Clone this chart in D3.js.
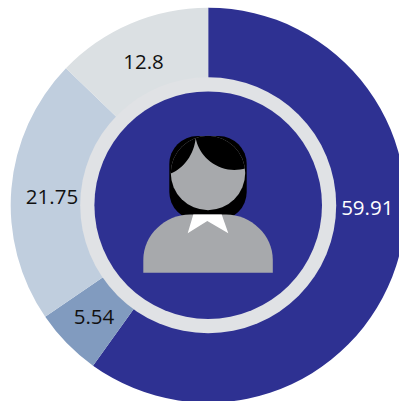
<!DOCTYPE html>
<html>
<head>
<meta charset="utf-8">
<script src="https://cdn.jsdelivr.net/npm/d3@7"></script>
<style>
  html, body { margin: 0; padding: 0; background: #fff; overflow: hidden; }
  svg { display: block; }
</style>
</head>
<body>
<div id="chart"></div>
<script>
// values clockwise from 12 o'clock
var categories = ["a", "b", "c", "d"];
var values = [59.91, 5.54, 21.75, 12.8];
var labels = ["59.91", "5.54", "21.75", "12.8"];
var sliceColors = ["#2e3192", "#819bbf", "#c0cede", "#dbe0e3"];
var labelColors = ["#ffffff", "#111111", "#111111", "#111111"];

var width = 399;
var height = 401;
var cx = 208.2;
var cy = 205.2;

var svg = d3.select("#chart").append("svg")
    .attr("width", width)
    .attr("height", height);

var g = svg.append("g")
    .attr("transform", "translate(" + cx + "," + cy + ")");

var pie = d3.pie().sort(null).value(function(d){ return d; });
var arc = d3.arc().innerRadius(120).outerRadius(197.5);

g.selectAll("path.slice")
    .data(pie(values))
    .enter()
    .append("path")
    .attr("class", "slice")
    .attr("d", arc)
    .attr("fill", function(d, i){ return sliceColors[i]; });

// ring and inner disc
g.append("circle").attr("r", 128).attr("fill", "#e0e2e5");
g.append("circle").attr("r", 113.8).attr("fill", "#2e3192");

// labels are hand placed in the original, not centred in the slices
var labelPos = [
    [159.1, 9.8],
    [-114.2, 118.5],
    [-156.2, -1.2],
    [-64.7, -135.9]
];

g.selectAll("text.value")
    .data(labels)
    .enter()
    .append("text")
    .attr("class", "value")
    .attr("x", function(d, i){ return labelPos[i][0]; })
    .attr("y", function(d, i){ return labelPos[i][1]; })
    .attr("text-anchor", "middle")
    .attr("font-family", "'Open Sans', sans-serif")
    .attr("font-size", 20.5)
    .attr("fill", function(d, i){ return labelColors[i]; })
    .text(function(d){ return d; });

// person icon
var icon = svg.append("g");

svg.append("clipPath").attr("id", "face-clip")
    .append("circle").attr("cx", 208).attr("cy", 173).attr("r", 37.2);

icon.append("rect")
    .attr("x", 169.3).attr("y", 136)
    .attr("width", 77.4).attr("height", 84)
    .attr("rx", 28).attr("fill", "#000");

icon.append("circle")
    .attr("cx", 208).attr("cy", 173).attr("r", 37.2)
    .attr("fill", "#a7a9ac");

icon.append("path")
    .attr("clip-path", "url(#face-clip)")
    .attr("fill", "#000")
    .attr("d", "M195.7,138 C198,152 210,166 228,169.5 C234,170.3 240,170 246,168.3 L248,130 L168,130 L168,174.5 C183,170 194,155 195.7,138 Z");

icon.append("path")
    .attr("fill", "#a7a9ac")
    .attr("d", "M143.3,272.8 V260 C143.3,235 165,214.5 190,214.5 H226 C251,214.5 272.8,235 272.8,260 V272.8 Z");

icon.append("path")
    .attr("fill", "#fff")
    .attr("d", "M193.3,214.5 H221.7 L228.3,233.3 L207.3,221 L187.7,233.3 Z");
</script>
</body>
</html>
